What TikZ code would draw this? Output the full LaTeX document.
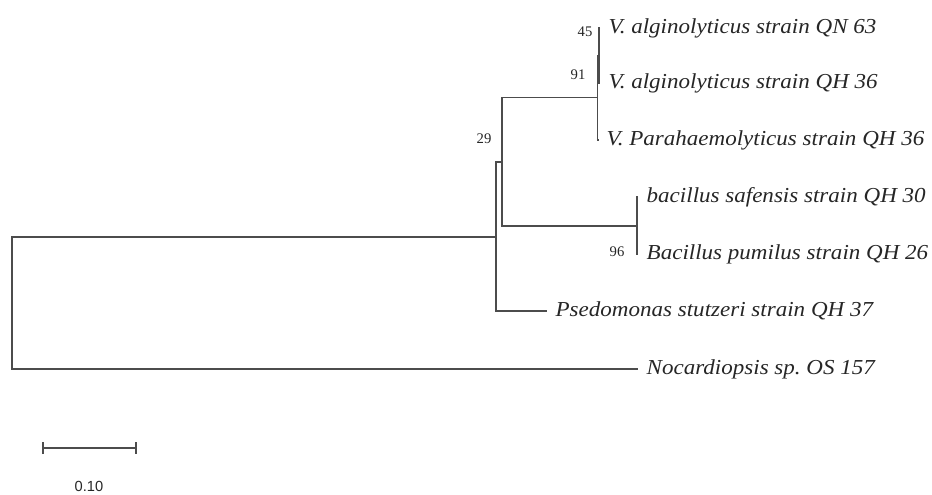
\documentclass[tikz,border=0pt]{standalone}
\usepackage{fontspec}
\setmainfont{Liberation Serif}
\newfontfamily\fogliafont[FakeStretch=1.08]{Liberation Serif}
\newfontfamily\scalafont{Liberation Sans}
\usetikzlibrary{arrows.meta}
\frenchspacing

\begin{document}
\begin{tikzpicture}[x=0.75pt, y=-0.75pt,
        ramo/.style={draw=black!70, line width=1.1pt},
        foglia/.style={anchor=west, inner xsep=6.5pt, inner ysep=0pt, outer sep=0pt,
                       font=\fogliafont\fontsize{16}{18}\selectfont\itshape, text=black!85},
        supporto/.style={inner sep=0pt, font=\fontsize{11}{12}\selectfont, text=black!85}]

              \useasboundingbox (0,0) rectangle (932,494);

              \coordinate (radice) at (12, 303);
              \coordinate (nodoA) at (496, 237);
              \coordinate (nodo29) at (502, 162);
              \coordinate (nodo91) at (597.5, 97.5);
              \coordinate (nodo45) at (599, 55.5);
              \coordinate (nodo96) at (637, 226);

              \node [foglia] (foglia1) at (600, 28) {V. alginolyticus strain QN 63};
              \node [foglia] (foglia2) at (600, 83) {V. alginolyticus strain QH 36};
              \node [foglia] (foglia3) at (598, 140) {V. Parahaemolyticus strain QH 36};
              \node [foglia] (foglia4) at (638, 197) {bacillus safensis strain QH 30};
              \node [foglia] (foglia5) at (638, 254) {Bacillus pumilus strain QH 26};
              \node [foglia] (foglia6) at (547, 311) {Psedomonas stutzeri strain QH 37};
              \node [foglia] (foglia7) at (638, 369) {Nocardiopsis sp. OS 157};

              \node [supporto] (supporto45) at (585, 32) {45};
              \node [supporto] (supporto91) at (578, 75) {91};
              \node [supporto] (supporto29) at (484, 139) {29};
              \node [supporto] (supporto96) at (617, 252) {96};

              \draw [ramo] (foglia1.west) -| (nodo45) |- (foglia2.west);
              \draw [ramo] (nodo45) -| (nodo91) |- (foglia3.west);
              \draw [ramo] (foglia4.west) -| (nodo96) |- (foglia5.west);
              \draw [ramo] (nodo91) -| (nodo29) |- (nodo96);
              \draw [ramo] (nodo29) -| (nodoA) |- (foglia6.west);
              \draw [ramo] (nodoA) -| (radice) |- (foglia7.west);

              \coordinate (scala1) at (42, 448);
              \coordinate (scala2) at (137, 448);
              \draw [ramo, {Bar[width=9pt, line width=1.3pt]}-{Bar[width=9pt, line width=1.3pt]}] (scala1) -- (scala2);
              \node [font=\scalafont\fontsize{11}{12}\selectfont, text=black!85] (valore) at (89, 486) {0.10};

            \end{tikzpicture}
\end{document}
